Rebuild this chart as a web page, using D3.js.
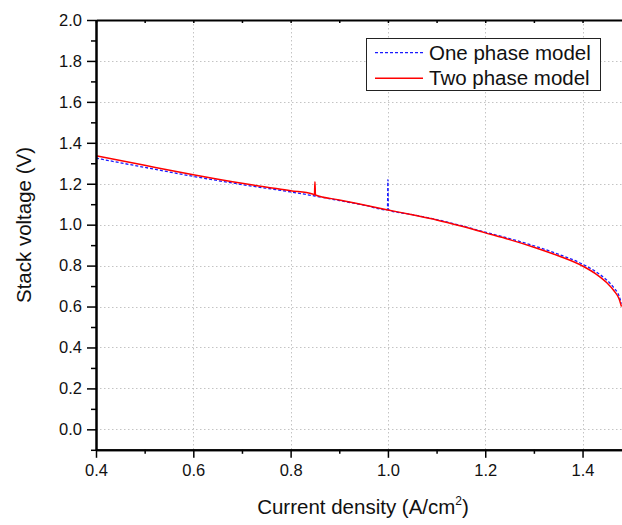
<!DOCTYPE html>
<html>
<head>
<meta charset="utf-8">
<script src="https://cdn.jsdelivr.net/npm/d3@7"></script>
<style>
  html, body { margin: 0; padding: 0; background: #fff; }
  svg { display: block; font-family: "Liberation Sans", Arial, sans-serif; }
</style>
</head>
<body>
<svg id="chart" width="622" height="525"></svg>
<script>
// Polarization curves: current density (A/cm²) vs stack voltage (V)
const onePhaseCurrent = [0.40, 0.50, 0.60, 0.70, 0.80, 0.85, 0.90, 0.95, 0.999, 1.000, 1.001,
  1.05, 1.10, 1.15, 1.20, 1.25, 1.30, 1.35, 1.40, 1.43, 1.45, 1.465, 1.475, 1.48];
const onePhaseVoltage = [1.325, 1.280, 1.236, 1.196, 1.160, 1.140, 1.118, 1.096, 1.072, 1.220, 1.072,
  1.049, 1.025, 0.996, 0.963, 0.932, 0.897, 0.856, 0.807, 0.766, 0.729, 0.690, 0.652, 0.614];

const twoPhaseCurrent = [0.40, 0.50, 0.60, 0.70, 0.80, 0.845, 0.849, 0.850, 0.851, 0.90, 1.00,
  1.05, 1.10, 1.15, 1.20, 1.25, 1.30, 1.35, 1.40, 1.43, 1.45, 1.465, 1.475, 1.48];
const twoPhaseVoltage = [1.337, 1.290, 1.244, 1.202, 1.166, 1.150, 1.146, 1.210, 1.145, 1.121, 1.072,
  1.048, 1.023, 0.993, 0.960, 0.927, 0.890, 0.848, 0.798, 0.755, 0.716, 0.676, 0.638, 0.600];

const seriesNames = ["One phase model", "Two phase model"];
const xMajorTicks = [0.4, 0.6, 0.8, 1.0, 1.2, 1.4];
const xMinorTicks = [0.5, 0.7, 0.9, 1.1, 1.3, 1.5];
const yMajorTicks = [0.0, 0.2, 0.4, 0.6, 0.8, 1.0, 1.2, 1.4, 1.6, 1.8, 2.0];
const yMinorTicks = [-0.1, 0.1, 0.3, 0.5, 0.7, 0.9, 1.1, 1.3, 1.5, 1.7, 1.9];

const svg = d3.select("#chart");
const plotLeft = 96, plotTop = 20, plotBottom = 449.8, plotRight = 631.2;

const x = d3.scaleLinear().domain([0.4, 1.5]).range([plotLeft, plotRight]);
const y = d3.scaleLinear().domain([-0.1, 2.0]).range([plotBottom, plotTop]);

// dotted grid
const grid = svg.append("g").attr("stroke", "#c4c4c4").attr("stroke-width", 1)
  .attr("stroke-dasharray", "1.5,2.5");
grid.selectAll("line.h").data(yMajorTicks.filter(v => v < 2.0)).join("line")
  .attr("x1", plotLeft).attr("x2", plotRight)
  .attr("y1", d => Math.round(y(d)) + 0.5).attr("y2", d => Math.round(y(d)) + 0.5);
grid.selectAll("line.v").data(xMajorTicks.filter(v => v > 0.4)).join("line")
  .attr("y1", plotTop).attr("y2", plotBottom)
  .attr("x1", d => Math.round(x(d)) + 0.5).attr("x2", d => Math.round(x(d)) + 0.5);

// curves
svg.append("defs").append("clipPath").attr("id", "plot")
  .append("rect").attr("x", plotLeft).attr("y", plotTop)
  .attr("width", plotRight - plotLeft).attr("height", plotBottom - plotTop);

const line = d3.line().x(d => x(d[0])).y(d => y(d[1])).curve(d3.curveMonotoneX);
const onePhase = onePhaseCurrent.map((c, i) => [c, onePhaseVoltage[i]]);
const twoPhase = twoPhaseCurrent.map((c, i) => [c, twoPhaseVoltage[i]]);

const curves = svg.append("g").attr("clip-path", "url(#plot)").attr("fill", "none");
curves.append("path").datum(onePhase).attr("d", line)
  .attr("stroke", "#1a1aff").attr("stroke-width", 1.3).attr("stroke-dasharray", "3,2");
curves.append("path").datum(twoPhase).attr("d", line)
  .attr("stroke", "#ff0000").attr("stroke-width", 1.5);

// axes
const fmt = d3.format(".1f");
function styleAxis(g) {
  g.select(".domain").attr("stroke", "#000").attr("stroke-width", 2);
  g.selectAll(".tick line").attr("stroke", "#000").attr("stroke-width", 1.5);
  g.selectAll(".tick text").attr("fill", "#111").attr("font-size", 16.5)
    .attr("font-family", "Liberation Sans, Arial, sans-serif");
}

svg.append("g").attr("transform", `translate(${plotLeft},0)`)
  .call(d3.axisLeft(y).tickValues(yMinorTicks).tickFormat("").tickSize(5).tickSizeOuter(0))
  .call(styleAxis);
svg.append("g").attr("transform", `translate(${plotLeft},0)`)
  .call(d3.axisLeft(y).tickValues(yMajorTicks).tickFormat(fmt).tickSize(9).tickPadding(5).tickSizeOuter(0))
  .call(styleAxis);

svg.append("g").attr("transform", `translate(0,${plotBottom})`)
  .call(d3.axisBottom(x).tickValues(xMinorTicks).tickFormat("").tickSize(4).tickSizeOuter(0))
  .call(styleAxis);
svg.append("g").attr("transform", `translate(0,${plotBottom})`)
  .call(d3.axisBottom(x).tickValues(xMajorTicks).tickFormat(fmt).tickSize(8).tickPadding(6).tickSizeOuter(0))
  .call(styleAxis);

// top frame with short inward ticks
svg.append("g").attr("transform", `translate(0,${plotTop})`)
  .call(d3.axisBottom(x).tickValues(xMajorTicks.concat(xMinorTicks)).tickFormat("").tickSize(3).tickSizeOuter(0))
  .call(styleAxis);

// axis titles
const xTitle = svg.append("text").attr("x", 363).attr("y", 514)
  .attr("text-anchor", "middle").attr("font-size", 20.5).attr("fill", "#111");
xTitle.append("tspan").text("Current density (A/cm");
xTitle.append("tspan").attr("font-size", 12).attr("dy", -9).text("2");
xTitle.append("tspan").attr("dy", 9).text(")");

svg.append("text").attr("transform", "translate(31,225) rotate(-90)")
  .attr("text-anchor", "middle").attr("font-size", 20.5).attr("fill", "#111")
  .text("Stack voltage (V)");

// legend
const legend = svg.append("g");
legend.append("rect").attr("x", 366.5).attr("y", 38.5).attr("width", 234).attr("height", 52)
  .attr("fill", "#fff").attr("stroke", "#222").attr("stroke-width", 1);
const legendStyles = [
  { stroke: "#1a1aff", dash: "3,2", width: 1.3 },
  { stroke: "#ff0000", dash: null, width: 1.5 }
];
seriesNames.forEach((name, i) => {
  const cy = 52.7 + i * 25.6;
  legend.append("line").attr("x1", 375).attr("x2", 423).attr("y1", cy).attr("y2", cy)
    .attr("stroke", legendStyles[i].stroke).attr("stroke-width", legendStyles[i].width)
    .attr("stroke-dasharray", legendStyles[i].dash);
  legend.append("text").attr("x", 429).attr("y", cy + 6.8)
    .attr("font-size", 20.5).attr("fill", "#111").text(name);
});
</script>
</body>
</html>
